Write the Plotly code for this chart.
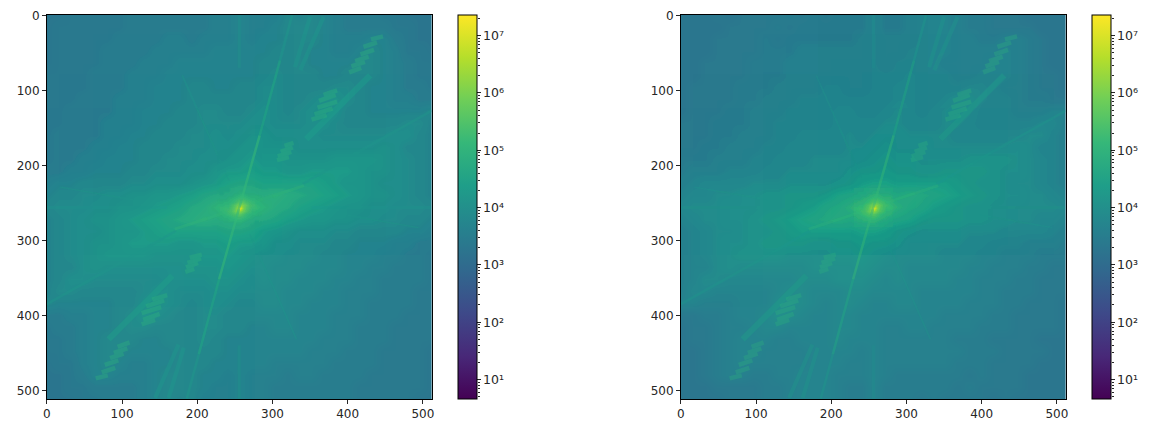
import plotly.graph_objects as go

# page body keeps its default 8 px margin, so the figure is laid out in that smaller box
W, H = 1148, 425
PAD = 8
M_L, M_R, M_T, M_B = 20, 20, 1, 33.5
PLOT_W = W - M_L - M_R

# sampled spectrum, log10 of magnitude, every 16 px
grid = list(range(0, 513, 16))

z_left = [
[3.3,3.3,3.4,3.4,3.4,3.4,3.4,3.5,3.5,3.5,3.5,3.5,3.5,3.5,3.6,3.6,3.7,3.6,3.6,3.6,3.8,3.7,3.8,3.7,3.6,3.5,3.5,3.5,3.4,3.4,3.3,3.3,3.3],
[3.3,3.4,3.4,3.4,3.4,3.4,3.4,3.5,3.5,3.5,3.5,3.5,3.5,3.5,3.6,3.6,3.7,3.6,3.6,3.7,3.8,3.8,3.8,3.7,3.6,3.5,3.5,3.5,3.5,3.4,3.4,3.3,3.3],
[3.3,3.4,3.4,3.4,3.4,3.4,3.5,3.5,3.5,3.5,3.6,3.6,3.5,3.6,3.6,3.6,3.7,3.6,3.7,3.7,3.8,3.8,3.8,3.7,3.6,3.6,3.6,3.7,3.7,3.5,3.4,3.3,3.3],
[3.3,3.4,3.4,3.4,3.4,3.5,3.5,3.5,3.5,3.6,3.6,3.6,3.6,3.6,3.7,3.7,3.7,3.7,3.7,3.8,3.8,3.8,3.7,3.7,3.6,3.6,3.7,3.8,3.7,3.6,3.4,3.4,3.3],
[3.3,3.4,3.4,3.4,3.4,3.5,3.5,3.5,3.6,3.6,3.6,3.7,3.7,3.7,3.7,3.7,3.7,3.7,3.8,3.8,3.8,3.8,3.7,3.7,3.7,3.7,3.8,3.8,3.7,3.6,3.5,3.4,3.4],
[3.4,3.4,3.4,3.4,3.5,3.5,3.5,3.6,3.6,3.6,3.7,3.7,3.7,3.7,3.7,3.7,3.7,3.7,3.8,3.9,3.8,3.8,3.8,3.7,3.7,3.8,3.8,3.8,3.7,3.6,3.5,3.4,3.4],
[3.4,3.4,3.4,3.4,3.5,3.5,3.5,3.6,3.6,3.7,3.7,3.7,3.8,3.8,3.7,3.7,3.8,3.8,3.9,3.9,3.8,3.8,3.8,3.8,3.9,3.9,3.8,3.7,3.7,3.6,3.5,3.5,3.4],
[3.4,3.4,3.4,3.5,3.5,3.5,3.6,3.6,3.6,3.7,3.7,3.7,3.8,3.8,3.8,3.8,3.8,3.8,3.9,3.9,3.8,3.8,3.9,4.0,4.1,3.9,3.8,3.7,3.7,3.6,3.6,3.5,3.5],
[3.4,3.4,3.5,3.5,3.5,3.5,3.6,3.6,3.7,3.7,3.7,3.8,3.8,3.9,3.9,3.8,3.8,3.9,4.0,3.9,3.8,3.9,4.0,4.1,4.0,3.8,3.8,3.7,3.7,3.7,3.7,3.7,3.8],
[3.4,3.4,3.5,3.5,3.5,3.6,3.6,3.6,3.7,3.7,3.8,3.8,3.8,3.9,3.9,3.9,3.9,4.0,4.0,3.9,3.9,3.9,4.0,4.0,3.9,3.8,3.8,3.8,3.8,3.8,3.9,3.9,3.7],
[3.4,3.5,3.5,3.5,3.5,3.6,3.6,3.7,3.7,3.8,3.8,3.8,3.9,3.9,4.0,3.9,4.0,4.1,4.1,4.0,4.0,4.0,4.0,3.9,3.9,3.9,3.9,3.9,3.9,4.0,4.0,3.8,3.7],
[3.4,3.5,3.5,3.5,3.6,3.6,3.7,3.7,3.8,3.8,3.8,3.9,3.9,3.9,4.0,4.0,4.1,4.2,4.1,4.1,4.1,4.0,4.0,4.0,4.0,4.0,4.0,4.0,4.1,4.0,3.8,3.8,3.7],
[3.4,3.5,3.5,3.6,3.6,3.7,3.7,3.7,3.8,3.8,3.9,3.9,3.9,4.0,4.0,4.1,4.2,4.3,4.2,4.2,4.1,4.1,4.1,4.1,4.2,4.2,4.2,4.2,4.1,4.0,3.9,3.8,3.7],
[3.5,3.5,3.6,3.6,3.7,3.7,3.7,3.8,3.8,3.9,3.9,3.9,4.0,4.0,4.2,4.3,4.3,4.4,4.3,4.3,4.2,4.2,4.3,4.3,4.3,4.3,4.2,4.1,4.1,4.0,3.9,3.8,3.7],
[3.6,3.7,3.7,3.8,3.8,3.8,3.8,3.9,3.9,4.0,4.0,4.0,4.1,4.2,4.3,4.5,4.6,4.6,4.5,4.5,4.5,4.5,4.5,4.4,4.3,4.2,4.2,4.1,4.0,4.0,3.9,3.8,3.7],
[3.7,3.8,3.8,3.9,3.9,4.0,4.0,4.1,4.1,4.2,4.2,4.3,4.4,4.6,4.7,4.8,5.0,4.9,4.8,4.9,4.8,4.7,4.6,4.5,4.4,4.3,4.2,4.1,4.1,4.0,3.9,3.8,3.7],
[3.8,3.9,3.9,3.9,4.0,4.0,4.1,4.1,4.2,4.3,4.4,4.5,4.7,4.8,5.0,5.3,5.6,5.3,5.0,4.8,4.7,4.5,4.4,4.3,4.2,4.1,4.1,4.0,4.0,3.9,3.9,3.9,3.8],
[3.7,3.8,3.9,4.0,4.1,4.1,4.2,4.3,4.4,4.5,4.6,4.7,4.8,4.9,4.8,4.9,5.0,4.8,4.7,4.6,4.4,4.3,4.2,4.2,4.1,4.1,4.0,4.0,3.9,3.9,3.8,3.8,3.7],
[3.7,3.8,3.9,4.0,4.0,4.1,4.2,4.2,4.3,4.4,4.5,4.5,4.5,4.5,4.5,4.6,4.6,4.5,4.3,4.2,4.1,4.0,4.0,4.0,3.9,3.9,3.8,3.8,3.8,3.8,3.7,3.7,3.6],
[3.7,3.8,3.9,4.0,4.1,4.1,4.2,4.3,4.3,4.3,4.3,4.2,4.2,4.3,4.3,4.4,4.3,4.3,4.2,4.0,4.0,3.9,3.9,3.9,3.8,3.8,3.7,3.7,3.7,3.6,3.6,3.5,3.5],
[3.7,3.8,3.9,4.0,4.1,4.2,4.2,4.2,4.2,4.1,4.1,4.1,4.1,4.2,4.2,4.3,4.2,4.1,4.0,4.0,3.9,3.9,3.9,3.8,3.8,3.7,3.7,3.7,3.6,3.6,3.5,3.5,3.4],
[3.7,3.8,3.8,4.0,4.1,4.0,4.0,4.0,4.0,4.0,4.0,4.0,4.1,4.1,4.1,4.2,4.1,4.0,4.0,3.9,3.9,3.9,3.8,3.8,3.8,3.7,3.7,3.6,3.6,3.5,3.5,3.5,3.4],
[3.7,3.8,4.0,4.0,3.9,3.9,3.9,3.9,3.9,3.9,4.0,4.0,4.0,4.0,4.1,4.1,4.0,3.9,4.0,3.9,3.9,3.8,3.8,3.8,3.7,3.7,3.6,3.6,3.5,3.5,3.5,3.5,3.4],
[3.7,3.9,3.9,3.8,3.8,3.8,3.8,3.8,3.9,4.0,4.0,3.9,3.9,3.9,4.0,4.0,3.9,3.9,3.9,3.9,3.8,3.8,3.8,3.7,3.7,3.6,3.6,3.6,3.5,3.5,3.5,3.4,3.4],
[3.8,3.7,3.7,3.7,3.7,3.7,3.8,3.8,4.0,4.1,4.0,3.9,3.8,3.9,4.0,3.9,3.8,3.8,3.9,3.9,3.8,3.8,3.7,3.7,3.7,3.6,3.6,3.5,3.5,3.5,3.5,3.4,3.4],
[3.5,3.5,3.6,3.6,3.7,3.7,3.8,3.9,4.1,4.0,3.9,3.8,3.8,3.9,3.9,3.8,3.8,3.8,3.8,3.8,3.8,3.7,3.7,3.7,3.6,3.6,3.6,3.5,3.5,3.5,3.4,3.4,3.4],
[3.4,3.5,3.5,3.6,3.7,3.7,3.8,3.9,3.9,3.8,3.8,3.8,3.8,3.9,3.9,3.8,3.8,3.7,3.7,3.8,3.8,3.7,3.7,3.7,3.6,3.6,3.5,3.5,3.5,3.4,3.4,3.4,3.4],
[3.4,3.4,3.5,3.6,3.7,3.8,3.8,3.8,3.7,3.7,3.8,3.8,3.8,3.9,3.8,3.7,3.7,3.7,3.7,3.7,3.7,3.7,3.7,3.6,3.6,3.6,3.5,3.5,3.5,3.4,3.4,3.4,3.4],
[3.4,3.4,3.5,3.6,3.7,3.8,3.8,3.7,3.7,3.7,3.7,3.8,3.8,3.8,3.8,3.7,3.7,3.7,3.7,3.7,3.7,3.7,3.6,3.6,3.6,3.5,3.5,3.5,3.4,3.4,3.4,3.4,3.3],
[3.3,3.4,3.4,3.6,3.7,3.8,3.7,3.6,3.6,3.7,3.7,3.8,3.8,3.8,3.7,3.7,3.7,3.7,3.7,3.6,3.6,3.6,3.6,3.6,3.5,3.5,3.5,3.5,3.4,3.4,3.4,3.4,3.3],
[3.3,3.3,3.4,3.5,3.7,3.7,3.6,3.6,3.6,3.7,3.8,3.8,3.8,3.7,3.7,3.6,3.7,3.6,3.6,3.6,3.5,3.6,3.6,3.5,3.5,3.5,3.5,3.4,3.4,3.4,3.4,3.4,3.3],
[3.3,3.3,3.4,3.4,3.5,3.5,3.5,3.5,3.6,3.7,3.8,3.8,3.8,3.7,3.6,3.6,3.7,3.6,3.6,3.5,3.5,3.5,3.5,3.5,3.5,3.5,3.4,3.4,3.4,3.4,3.4,3.4,3.3],
[3.3,3.3,3.3,3.4,3.4,3.5,3.5,3.5,3.6,3.7,3.8,3.7,3.8,3.6,3.6,3.6,3.7,3.6,3.6,3.5,3.5,3.5,3.5,3.5,3.5,3.5,3.4,3.4,3.4,3.4,3.4,3.3,3.3],
]

z_right = [
[3.3,3.3,3.3,3.4,3.3,3.4,3.4,3.4,3.4,3.5,3.4,3.5,3.4,3.5,3.5,3.5,3.7,3.5,3.5,3.6,3.7,3.7,3.7,3.6,3.5,3.5,3.4,3.4,3.4,3.3,3.3,3.3,3.3],
[3.3,3.3,3.3,3.3,3.4,3.4,3.4,3.4,3.5,3.4,3.5,3.5,3.5,3.5,3.5,3.5,3.7,3.5,3.5,3.6,3.7,3.7,3.7,3.6,3.5,3.5,3.4,3.4,3.4,3.4,3.3,3.3,3.3],
[3.3,3.3,3.3,3.4,3.4,3.4,3.4,3.5,3.4,3.5,3.5,3.5,3.5,3.5,3.5,3.6,3.7,3.6,3.6,3.6,3.7,3.7,3.7,3.6,3.6,3.5,3.5,3.6,3.6,3.5,3.4,3.3,3.3],
[3.3,3.3,3.3,3.4,3.4,3.4,3.4,3.5,3.5,3.5,3.6,3.6,3.6,3.6,3.6,3.6,3.7,3.6,3.6,3.7,3.7,3.7,3.7,3.6,3.6,3.6,3.6,3.7,3.6,3.5,3.4,3.3,3.3],
[3.3,3.3,3.4,3.4,3.4,3.4,3.5,3.5,3.5,3.6,3.6,3.6,3.6,3.6,3.6,3.6,3.7,3.6,3.7,3.7,3.7,3.7,3.6,3.6,3.6,3.6,3.7,3.7,3.6,3.5,3.4,3.3,3.3],
[3.3,3.3,3.4,3.4,3.4,3.4,3.5,3.5,3.5,3.6,3.6,3.6,3.6,3.6,3.6,3.6,3.7,3.7,3.7,3.8,3.7,3.7,3.7,3.6,3.6,3.7,3.7,3.7,3.6,3.5,3.4,3.4,3.3],
[3.3,3.4,3.4,3.4,3.4,3.5,3.5,3.5,3.6,3.6,3.6,3.6,3.7,3.7,3.6,3.6,3.7,3.7,3.8,3.8,3.7,3.7,3.7,3.7,3.8,3.8,3.7,3.6,3.6,3.5,3.4,3.4,3.3],
[3.3,3.4,3.4,3.4,3.4,3.5,3.5,3.6,3.6,3.6,3.7,3.7,3.7,3.7,3.7,3.7,3.7,3.7,3.8,3.8,3.7,3.7,3.8,3.9,4.0,3.8,3.7,3.7,3.6,3.5,3.5,3.4,3.4],
[3.3,3.4,3.4,3.4,3.5,3.5,3.6,3.6,3.6,3.7,3.7,3.7,3.7,3.8,3.8,3.7,3.7,3.8,3.9,3.8,3.7,3.8,3.9,4.0,3.9,3.7,3.7,3.7,3.6,3.6,3.6,3.7,3.7],
[3.4,3.4,3.4,3.5,3.5,3.5,3.6,3.6,3.7,3.7,3.7,3.7,3.7,3.8,3.8,3.8,3.8,3.9,3.9,3.8,3.8,3.8,3.9,3.9,3.8,3.7,3.7,3.7,3.7,3.7,3.8,3.8,3.6],
[3.4,3.4,3.4,3.5,3.5,3.6,3.6,3.6,3.7,3.7,3.8,3.8,3.8,3.8,3.9,3.8,3.9,4.0,4.0,3.9,3.9,3.9,3.9,3.8,3.8,3.8,3.8,3.8,3.8,3.9,3.9,3.7,3.6],
[3.4,3.4,3.5,3.5,3.6,3.6,3.6,3.7,3.7,3.8,3.8,3.8,3.8,3.8,3.9,3.9,4.0,4.1,4.0,4.0,4.0,3.9,3.9,3.9,3.9,3.9,3.9,3.9,4.0,3.9,3.7,3.7,3.6],
[3.5,3.5,3.5,3.6,3.6,3.6,3.7,3.7,3.8,3.8,3.8,3.9,3.9,3.9,3.9,4.0,4.1,4.2,4.1,4.1,4.0,4.0,4.0,4.0,4.1,4.1,4.1,4.1,4.0,3.9,3.8,3.7,3.6],
[3.5,3.6,3.6,3.6,3.7,3.7,3.7,3.8,3.8,3.9,3.9,3.9,3.9,3.9,4.1,4.2,4.2,4.3,4.2,4.2,4.1,4.1,4.2,4.2,4.2,4.2,4.1,4.0,4.0,3.9,3.8,3.7,3.6],
[3.6,3.7,3.8,3.8,3.8,3.8,3.9,3.9,3.9,4.0,4.0,4.0,4.0,4.1,4.2,4.4,4.5,4.5,4.4,4.4,4.4,4.4,4.4,4.3,4.2,4.1,4.1,4.0,3.9,3.9,3.8,3.7,3.6],
[3.7,3.8,3.8,3.9,3.9,4.0,4.0,4.1,4.1,4.2,4.2,4.2,4.3,4.5,4.6,4.7,4.9,4.8,4.7,4.8,4.7,4.6,4.5,4.4,4.3,4.2,4.1,4.0,4.0,3.9,3.9,3.8,3.7],
[3.8,3.9,3.9,3.9,4.0,4.0,4.0,4.1,4.1,4.2,4.3,4.4,4.6,4.7,4.9,5.2,5.5,5.2,4.9,4.7,4.6,4.4,4.3,4.2,4.1,4.1,4.0,4.0,3.9,3.9,3.9,3.9,3.8],
[3.7,3.8,3.9,3.9,4.0,4.0,4.1,4.2,4.3,4.4,4.5,4.6,4.7,4.8,4.7,4.8,4.9,4.7,4.6,4.5,4.3,4.2,4.2,4.2,4.1,4.1,4.0,4.0,3.9,3.9,3.8,3.8,3.7],
[3.6,3.7,3.8,3.9,3.9,4.0,4.1,4.1,4.2,4.3,4.4,4.4,4.4,4.4,4.4,4.5,4.5,4.4,4.2,4.1,4.0,4.0,4.0,4.0,3.9,3.9,3.9,3.8,3.8,3.8,3.8,3.7,3.6],
[3.6,3.7,3.8,3.9,4.0,4.0,4.1,4.2,4.2,4.2,4.2,4.1,4.1,4.2,4.2,4.3,4.2,4.2,4.1,3.9,3.9,3.9,3.9,3.9,3.8,3.8,3.7,3.7,3.7,3.6,3.6,3.6,3.5],
[3.6,3.7,3.8,3.9,4.0,4.1,4.1,4.1,4.1,4.0,4.0,4.0,4.0,4.1,4.1,4.2,4.1,4.0,3.9,3.9,3.9,3.9,3.8,3.8,3.8,3.7,3.7,3.6,3.6,3.6,3.5,3.5,3.5],
[3.6,3.7,3.7,3.9,4.0,3.9,3.9,3.9,3.9,3.9,3.9,4.0,4.0,4.0,4.0,4.1,4.0,3.9,3.9,3.8,3.8,3.8,3.8,3.8,3.7,3.7,3.6,3.6,3.6,3.5,3.5,3.4,3.4],
[3.6,3.7,3.9,3.9,3.8,3.8,3.8,3.8,3.8,3.8,3.9,3.9,3.9,4.0,4.0,4.0,3.9,3.8,3.9,3.8,3.8,3.8,3.8,3.7,3.7,3.6,3.6,3.6,3.5,3.5,3.4,3.4,3.4],
[3.6,3.8,3.8,3.7,3.7,3.7,3.7,3.7,3.8,3.9,3.9,3.8,3.8,3.8,3.9,3.9,3.8,3.8,3.8,3.8,3.7,3.7,3.7,3.7,3.7,3.6,3.6,3.5,3.5,3.5,3.4,3.4,3.4],
[3.7,3.7,3.6,3.6,3.6,3.7,3.7,3.7,3.9,4.0,3.9,3.8,3.7,3.8,3.9,3.8,3.7,3.7,3.8,3.8,3.7,3.7,3.7,3.7,3.6,3.6,3.6,3.5,3.5,3.4,3.4,3.4,3.3],
[3.4,3.4,3.5,3.5,3.6,3.7,3.7,3.8,4.0,3.9,3.8,3.7,3.7,3.8,3.8,3.7,3.7,3.7,3.7,3.7,3.7,3.7,3.6,3.6,3.6,3.6,3.5,3.5,3.4,3.4,3.4,3.4,3.3],
[3.3,3.4,3.4,3.5,3.6,3.6,3.7,3.8,3.8,3.7,3.7,3.7,3.7,3.8,3.8,3.7,3.7,3.6,3.6,3.7,3.7,3.6,3.6,3.6,3.6,3.5,3.5,3.5,3.4,3.4,3.4,3.4,3.3],
[3.3,3.4,3.4,3.5,3.6,3.7,3.7,3.7,3.6,3.6,3.7,3.7,3.7,3.8,3.7,3.7,3.7,3.6,3.6,3.6,3.6,3.6,3.6,3.5,3.5,3.5,3.4,3.4,3.4,3.4,3.3,3.3,3.3],
[3.3,3.3,3.4,3.5,3.6,3.7,3.7,3.6,3.6,3.6,3.6,3.7,3.7,3.7,3.7,3.6,3.7,3.6,3.6,3.6,3.6,3.6,3.6,3.6,3.5,3.5,3.5,3.4,3.4,3.4,3.4,3.3,3.3],
[3.3,3.3,3.4,3.5,3.6,3.7,3.6,3.6,3.6,3.6,3.6,3.7,3.7,3.7,3.6,3.6,3.7,3.6,3.6,3.6,3.6,3.6,3.6,3.5,3.5,3.5,3.4,3.4,3.4,3.4,3.3,3.3,3.3],
[3.3,3.3,3.4,3.5,3.6,3.6,3.5,3.5,3.6,3.6,3.7,3.7,3.7,3.6,3.6,3.6,3.7,3.6,3.5,3.5,3.5,3.5,3.5,3.5,3.4,3.5,3.4,3.4,3.4,3.3,3.3,3.3,3.3],
[3.3,3.3,3.3,3.4,3.4,3.4,3.4,3.5,3.5,3.6,3.7,3.7,3.7,3.6,3.5,3.5,3.7,3.5,3.5,3.5,3.5,3.5,3.5,3.4,3.5,3.4,3.4,3.4,3.4,3.3,3.3,3.3,3.3],
[3.3,3.3,3.3,3.3,3.4,3.4,3.4,3.5,3.5,3.6,3.7,3.7,3.7,3.6,3.5,3.5,3.7,3.5,3.5,3.5,3.4,3.5,3.4,3.4,3.4,3.4,3.3,3.4,3.3,3.3,3.3,3.3,3.3],
]

# finer samples around the DC peak
core_grid = list(range(232, 281, 4))
z_core = [
[4.6,4.6,4.6,4.7,4.7,4.8,4.8,4.8,4.8,4.8,4.7,4.7,4.7],
[4.6,4.7,4.7,4.7,4.8,4.8,4.9,4.9,4.8,4.8,4.8,4.8,4.7],
[4.7,4.7,4.8,4.8,4.9,5.0,5.1,5.1,5.0,4.9,4.9,4.9,4.9],
[4.8,4.8,4.9,5.0,5.1,5.2,5.3,5.3,5.2,5.1,5.0,5.0,4.9],
[4.9,5.0,5.0,5.1,5.2,5.4,5.6,5.6,5.4,5.3,5.2,5.1,5.0],
[5.0,5.1,5.1,5.3,5.5,5.8,6.2,6.0,5.7,5.4,5.3,5.2,5.1],
[5.15,5.2,5.2,5.4,5.6,6.1,7.2,6.1,5.6,5.4,5.2,5.2,5.15],
[5.1,5.2,5.3,5.4,5.7,6.0,6.2,5.8,5.5,5.3,5.1,5.1,5.0],
[5.0,5.1,5.2,5.3,5.4,5.6,5.6,5.4,5.2,5.1,5.0,5.0,4.9],
[4.9,5.0,5.0,5.1,5.2,5.3,5.3,5.2,5.1,5.0,4.9,4.8,4.8],
[4.85,4.9,4.9,5.0,5.0,5.1,5.1,5.0,4.9,4.8,4.8,4.7,4.7],
[4.7,4.8,4.8,4.8,4.8,4.9,4.9,4.8,4.7,4.7,4.7,4.6,4.6],
[4.7,4.7,4.7,4.8,4.8,4.8,4.8,4.8,4.7,4.7,4.6,4.6,4.6],
]

# streaks thinner than the grid
main_ray_near_x = [283, 256, 229]
main_ray_near_y = [160, 256, 352]
main_ray_mid_x = [283, 310, None, 229, 202]
main_ray_mid_y = [160, 60, None, 352, 452]
main_ray_far_x = [310, 326, None, 202, 186]
main_ray_far_y = [60, 0, None, 452, 511]
broad_ray_x = [345, 430, None, 167, 82]
broad_ray_y = [165, 80, None, 347, 432]
twin_ray_x = [330, 350, None, 337, 368, None, 182, 162, None, 175, 144]
twin_ray_y = [69, 2, None, 73, 2, None, 443, 510, None, 439, 510]
axis_ray_x = [256, 256, None, 256, 256, None, 0, 160, None, 352, 511]
axis_ray_y = [0, 70, None, 440, 511, None, 256, 256, None, 256, 256]
faint_ray_x = [242, 180, None, 270, 332, None, 18, 115, None, 494, 397]
faint_ray_y = [220, 80, None, 292, 432, None, 229, 246, None, 283, 266]
band_ray_x = [512, 400, 340, None, 0, 112, 172]
band_ray_y = [127, 190, 225, None, 385, 322, 287]
core_band_x = [170, 240, None, 342, 272]
core_band_y = [285, 262, None, 227, 250]
stripe_x = [421,439,None,417,435,None,410,428,None,405,423,None,402,418,None,431,447,None,
            368,386,None,362,384,None,360,386,None,356,380,None,352,372,None,
            316,328,None,311,327,None,307,325,None,306,322,None,
            91,73,None,95,77,None,102,84,None,107,89,None,110,94,None,81,65,None,
            144,126,None,150,128,None,152,126,None,156,132,None,160,140,None,
            196,184,None,201,185,None,205,187,None,206,190]
stripe_y = [42,36,None,52,46,None,61,55,None,68,62,None,76,70,None,32,28,None,
            106,100,None,114,106,None,123,115,None,132,124,None,139,133,None,
            174,170,None,182,176,None,188,182,None,193,189,None,
            470,476,None,460,466,None,451,457,None,444,450,None,436,442,None,480,484,None,
            406,412,None,398,406,None,389,397,None,380,388,None,373,379,None,
            338,342,None,330,336,None,324,330,None,319,323]

streaks = [
    (axis_ray_x, axis_ray_y, "#1f968b", 3, 0.25),
    (faint_ray_x, faint_ray_y, "#1f968b", 1.5, 0.4),
    (band_ray_x, band_ray_y, "#1f968b", 2.5, 0.45),
    (core_band_x, core_band_y, "#35b779", 3, 0.35),
    (twin_ray_x, twin_ray_y, "#1f968b", 4, 0.5),
    (broad_ray_x, broad_ray_y, "#1f9e89", 6, 0.5),
    (main_ray_near_x, main_ray_near_y, "#35b779", 2.5, 0.6),
    (main_ray_mid_x, main_ray_mid_y, "#22a884", 2.5, 0.55),
    (main_ray_far_x, main_ray_far_y, "#1f968b", 2.5, 0.55),
    (stripe_x, stripe_y, "#2db27d", 4.5, 0.38),
]

z_min, z_max = 0.66, 7.36
decades = [1, 2, 3, 4, 5, 6, 7]
decade_text = ["10¹", "10²", "10³", "10⁴", "10⁵", "10⁶", "10⁷"]
axis_ticks = [0, 100, 200, 300, 400, 500]

font = dict(family="DejaVu Sans", size=12, color="#262626")
fig = go.Figure()


def px_x(px):
    return (px - PAD - M_L) / PLOT_W


def add_panel(z, n, cb_left, fade):
    xa, ya = ("x", "y") if n == 1 else (f"x{n}", f"y{n}")
    fig.add_trace(go.Heatmap(
        x=grid, y=grid, z=z, xaxis=xa, yaxis=ya, colorscale="Viridis",
        zmin=z_min, zmax=z_max, zsmooth="best", hoverinfo="skip",
        colorbar=dict(
            x=px_x(cb_left), xanchor="left", y=0.5, yanchor="middle",
            len=1, lenmode="fraction", thickness=19, thicknessmode="pixels",
            xpad=0, ypad=0, outlinewidth=1, outlinecolor="black",
            tickmode="array", tickvals=decades, ticktext=decade_text,
            ticks="outside", ticklen=3.5, tickwidth=1, tickcolor="#262626",
            tickfont=dict(font, size=12.5),
        ),
    ))
    for sx, sy, color, width, alpha in streaks:
        fig.add_trace(go.Scatter(
            x=sx, y=sy, xaxis=xa, yaxis=ya, mode="lines", hoverinfo="skip",
            line=dict(color=color, width=width), opacity=alpha * fade,
        ))
    fig.add_trace(go.Heatmap(
        x=core_grid, y=core_grid, z=z_core, xaxis=xa, yaxis=ya, colorscale="Viridis",
        zmin=z_min, zmax=z_max, zsmooth="best", showscale=False, hoverinfo="skip",
    ))


add_panel(z_left, 1, 458, 1.0)
add_panel(z_right, 2, 1092, 0.85)

# minor colorbar ticks come from a log axis laid over each colorbar
for n in (3, 4):
    fig.add_trace(go.Scatter(x=[0], y=[10], xaxis=f"x{n}", yaxis=f"y{n}", mode="markers",
                             marker=dict(opacity=0), hoverinfo="skip"))

axis = dict(tickmode="array", tickvals=axis_ticks, ticks="outside", ticklen=3.5, tickwidth=1,
            tickcolor="#262626", showgrid=False, zeroline=False, showline=True, linecolor="black",
            linewidth=1, mirror=True, tickfont=font, ticklabeloverflow="allow")
minor_axis = dict(type="log", range=[z_min, z_max], side="right", dtick=1, ticks="",
                  showticklabels=False, showgrid=False, zeroline=False, showline=False,
                  minor=dict(ticks="outside", ticklen=2, tickwidth=0.8, tickcolor="#262626",
                             dtick="D1", showgrid=False))
hidden_x = dict(visible=False, range=[-1, 1])

fig.update_layout(
    width=W, height=H, margin=dict(l=M_L, r=M_R, t=M_T, b=M_B),
    paper_bgcolor="white", plot_bgcolor="#2c728e", showlegend=False,
    xaxis=dict(axis, domain=[px_x(46.5), px_x(431.5)], range=[-0.5, 511.5], anchor="y"),
    yaxis=dict(axis, domain=[0, 1], range=[511.5, -0.5], anchor="x"),
    xaxis2=dict(axis, domain=[px_x(680.5), px_x(1065.5)], range=[-0.5, 511.5], anchor="y2"),
    yaxis2=dict(axis, domain=[0, 1], range=[511.5, -0.5], anchor="x2"),
    xaxis3=dict(hidden_x, domain=[px_x(458), px_x(477)], anchor="y3"),
    yaxis3=dict(minor_axis, domain=[0, 1], anchor="x3"),
    xaxis4=dict(hidden_x, domain=[px_x(1092), px_x(1111)], anchor="y4"),
    yaxis4=dict(minor_axis, domain=[0, 1], anchor="x4"),
)

fig.write_html("out.html")
